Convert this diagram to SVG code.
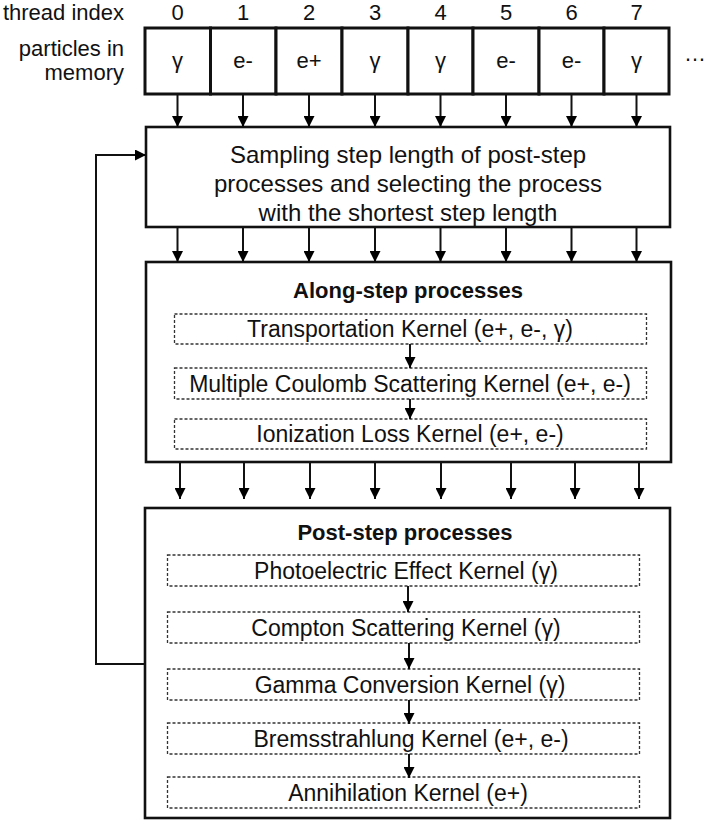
<svg xmlns="http://www.w3.org/2000/svg" width="709" height="822" viewBox="0 0 709 822">
<defs>
<marker id="ah" markerUnits="userSpaceOnUse" markerWidth="11" markerHeight="11" refX="11" refY="5.5" orient="auto">
<path d="M0,0 L11,5.5 L0,11 z" fill="#000"/>
</marker>
<style>
text{font-family:"Liberation Sans",Arial,Helvetica,sans-serif;fill:#111}
.lbl{font-size:22px}
.c{text-anchor:middle}
.r{text-anchor:end}
.k{font-size:23px;text-anchor:middle}
.t{font-size:22px;font-weight:bold;text-anchor:middle}
.s{font-size:24px;text-anchor:middle}
.box{fill:#fff;stroke:#111;stroke-width:2.6}
.cell{fill:#fff;stroke:#111;stroke-width:3}
.dash{fill:none;stroke:#333;stroke-width:1.3;stroke-dasharray:3 2}
.conn line,.conn path{stroke:#111;stroke-width:2;fill:none}
</style>
</defs>
<rect width="709" height="822" fill="#fff"/>

<g id="labels">
<text class="lbl r" x="124" y="19.5">thread index</text>
<text class="lbl r" x="124" y="56">particles in</text>
<text class="lbl r" x="124" y="80">memory</text>
<text class="lbl c" x="177.5" y="19.5">0</text>
<text class="lbl c" x="243" y="19.5">1</text>
<text class="lbl c" x="309" y="19.5">2</text>
<text class="lbl c" x="375" y="19.5">3</text>
<text class="lbl c" x="440.5" y="19.5">4</text>
<text class="lbl c" x="506" y="19.5">5</text>
<text class="lbl c" x="571.5" y="19.5">6</text>
<text class="lbl c" x="636.5" y="19.5">7</text>
<text class="lbl" x="684" y="61">…</text>
</g>

<g id="memory">
<rect class="cell" x="145" y="28" width="65.5" height="66"/>
<rect class="cell" x="210.5" y="28" width="65.5" height="66"/>
<rect class="cell" x="276" y="28" width="66" height="66"/>
<rect class="cell" x="342" y="28" width="66" height="66"/>
<rect class="cell" x="408" y="28" width="65" height="66"/>
<rect class="cell" x="473" y="28" width="66" height="66"/>
<rect class="cell" x="539" y="28" width="65" height="66"/>
<rect class="cell" x="604" y="28" width="65" height="66"/>
<text class="lbl c" x="177.5" y="68">γ</text>
<text class="lbl c" x="243" y="68">e-</text>
<text class="lbl c" x="309" y="68">e+</text>
<text class="lbl c" x="375" y="68">γ</text>
<text class="lbl c" x="440.5" y="68">γ</text>
<text class="lbl c" x="506" y="68">e-</text>
<text class="lbl c" x="571.5" y="68">e-</text>
<text class="lbl c" x="636.5" y="68">γ</text>
</g>

<g id="sampling">
<rect class="box" x="146" y="127" width="524" height="100"/>
<text class="s" x="408" y="163">Sampling step length of post-step</text>
<text class="s" x="408" y="192">processes and selecting the process</text>
<text class="s" x="408" y="221">with the shortest step length</text>
</g>

<g id="along">
<rect class="box" x="146" y="262" width="525" height="200"/>
<text class="t" x="408" y="298">Along-step processes</text>
<g id="transport"><rect class="dash" x="174.5" y="314" width="472" height="30"/>
<text class="k" x="410" y="337">Transportation Kernel (e+, e-, γ)</text></g>
<g id="msc"><rect class="dash" x="174.5" y="368" width="472" height="31"/>
<text class="k" x="410" y="391.5">Multiple Coulomb Scattering Kernel (e+, e-)</text></g>
<g id="ioni"><rect class="dash" x="174.5" y="419" width="472" height="30"/>
<text class="k" x="410" y="442">Ionization Loss Kernel (e+, e-)</text></g>
</g>

<g id="post">
<rect class="box" x="145" y="508" width="525" height="310"/>
<text class="t" x="405" y="540">Post-step processes</text>
<g id="phot"><rect class="dash" x="167.5" y="555" width="472" height="31"/>
<text class="k" x="406" y="578.5">Photoelectric Effect Kernel (γ)</text></g>
<g id="compt"><rect class="dash" x="167.5" y="612" width="472" height="31"/>
<text class="k" x="406" y="635.5">Compton Scattering Kernel (γ)</text></g>
<g id="conv"><rect class="dash" x="167.5" y="669" width="472" height="31"/>
<text class="k" x="410" y="692.5">Gamma Conversion Kernel (γ)</text></g>
<g id="brems"><rect class="dash" x="167.5" y="723" width="472" height="31"/>
<text class="k" x="411" y="746.5">Bremsstrahlung Kernel (e+, e-)</text></g>
<g id="annih"><rect class="dash" x="167.5" y="777" width="472" height="31"/>
<text class="k" x="408" y="800.5">Annihilation Kernel (e+)</text></g>
</g>

<g id="connectors" class="conn">
<line x1="177.5" y1="94" x2="177.5" y2="127" marker-end="url(#ah)"/>
<line x1="243" y1="94" x2="243" y2="127" marker-end="url(#ah)"/>
<line x1="309" y1="94" x2="309" y2="127" marker-end="url(#ah)"/>
<line x1="375" y1="94" x2="375" y2="127" marker-end="url(#ah)"/>
<line x1="440.5" y1="94" x2="440.5" y2="127" marker-end="url(#ah)"/>
<line x1="506" y1="94" x2="506" y2="127" marker-end="url(#ah)"/>
<line x1="571.5" y1="94" x2="571.5" y2="127" marker-end="url(#ah)"/>
<line x1="636.5" y1="94" x2="636.5" y2="127" marker-end="url(#ah)"/>

<line x1="177.5" y1="228" x2="177.5" y2="262" marker-end="url(#ah)"/>
<line x1="243" y1="228" x2="243" y2="262" marker-end="url(#ah)"/>
<line x1="309" y1="228" x2="309" y2="262" marker-end="url(#ah)"/>
<line x1="375" y1="228" x2="375" y2="262" marker-end="url(#ah)"/>
<line x1="440.5" y1="228" x2="440.5" y2="262" marker-end="url(#ah)"/>
<line x1="506" y1="228" x2="506" y2="262" marker-end="url(#ah)"/>
<line x1="571.5" y1="228" x2="571.5" y2="262" marker-end="url(#ah)"/>
<line x1="636.5" y1="228" x2="636.5" y2="262" marker-end="url(#ah)"/>

<line x1="180" y1="463" x2="180" y2="499" marker-end="url(#ah)"/>
<line x1="244" y1="463" x2="244" y2="499" marker-end="url(#ah)"/>
<line x1="310" y1="463" x2="310" y2="499" marker-end="url(#ah)"/>
<line x1="375" y1="463" x2="375" y2="499" marker-end="url(#ah)"/>
<line x1="441" y1="463" x2="441" y2="499" marker-end="url(#ah)"/>
<line x1="511" y1="463" x2="511" y2="499" marker-end="url(#ah)"/>
<line x1="575" y1="463" x2="575" y2="499" marker-end="url(#ah)"/>
<line x1="639" y1="463" x2="639" y2="499" marker-end="url(#ah)"/>

<line x1="410" y1="344" x2="410" y2="368" marker-end="url(#ah)"/>
<line x1="410" y1="399" x2="410" y2="419" marker-end="url(#ah)"/>

<line x1="408" y1="586" x2="408" y2="612" marker-end="url(#ah)"/>
<line x1="409" y1="643" x2="409" y2="669" marker-end="url(#ah)"/>
<line x1="409" y1="700" x2="409" y2="724" marker-end="url(#ah)"/>
<line x1="409" y1="754" x2="409" y2="778" marker-end="url(#ah)"/>

<path d="M145,664 H96 V155 H146" marker-end="url(#ah)"/>
</g>
</svg>
